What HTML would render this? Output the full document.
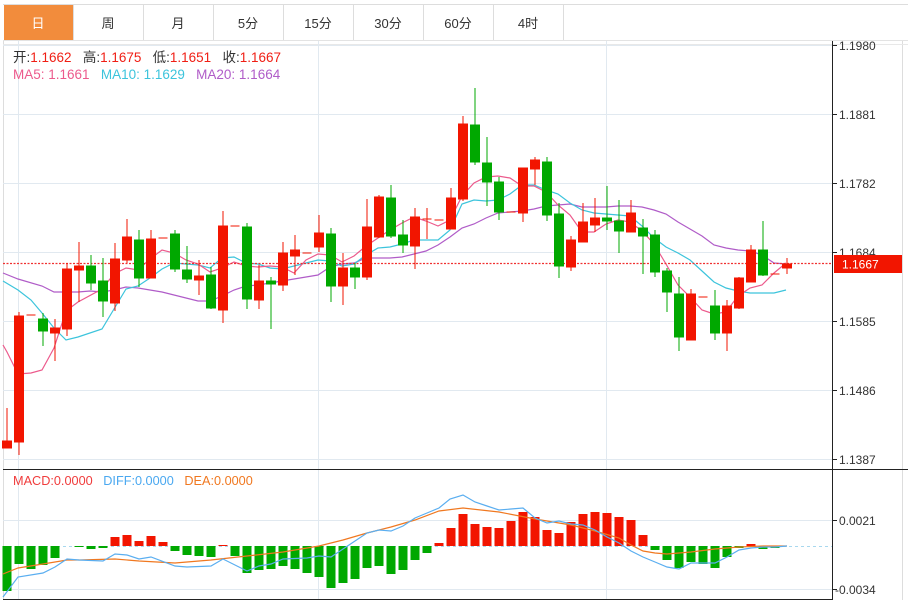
<!DOCTYPE html>
<html><head><meta charset="utf-8"><style>
body{margin:0;background:#fff;width:908px;height:600px;overflow:hidden;font-family:"Liberation Sans","Noto Sans CJK SC",sans-serif}
</style></head><body>
<svg width="908" height="600" viewBox="0 0 908 600" xmlns="http://www.w3.org/2000/svg" font-family="Liberation Sans, Noto Sans CJK SC, sans-serif">
<rect width="908" height="600" fill="#fff"/>
<line x1="3" y1="4.5" x2="908" y2="4.5" stroke="#ddd"/>
<line x1="3" y1="40.5" x2="908" y2="40.5" stroke="#e3e3e3"/>
<rect x="4" y="5" width="69" height="35" fill="#f28c3c"/>
<g stroke="#ddd"><line x1="73.5" y1="5" x2="73.5" y2="40"/><line x1="143.5" y1="5" x2="143.5" y2="40"/><line x1="213.5" y1="5" x2="213.5" y2="40"/><line x1="283.5" y1="5" x2="283.5" y2="40"/><line x1="353.5" y1="5" x2="353.5" y2="40"/><line x1="423.5" y1="5" x2="423.5" y2="40"/><line x1="493.5" y1="5" x2="493.5" y2="40"/><line x1="563.5" y1="5" x2="563.5" y2="40"/></g>
<g font-size="13" text-anchor="middle" fill="#333"><text x="38" y="28" fill="#fff">日</text><text x="108" y="28">周</text><text x="178" y="28">月</text><text x="248" y="28">5分</text><text x="318" y="28">15分</text><text x="388" y="28">30分</text><text x="458" y="28">60分</text><text x="528" y="28">4时</text></g>
<line x1="3.5" y1="41" x2="3.5" y2="600" stroke="#ddd"/>
<line x1="902.5" y1="41" x2="902.5" y2="600" stroke="#ddd"/>
<line x1="3" y1="44.5" x2="908" y2="44.5" stroke="#e8e8e8"/>
<g stroke="#e1e9f0"><line x1="3" y1="45.5" x2="832" y2="45.5"/><line x1="3" y1="114.5" x2="832" y2="114.5"/><line x1="3" y1="183.5" x2="832" y2="183.5"/><line x1="3" y1="252.5" x2="832" y2="252.5"/><line x1="3" y1="321.5" x2="832" y2="321.5"/><line x1="3" y1="390.5" x2="832" y2="390.5"/><line x1="3" y1="459.5" x2="832" y2="459.5"/>
<line x1="18.5" y1="41" x2="18.5" y2="600"/><line x1="318.5" y1="41" x2="318.5" y2="600"/><line x1="606.5" y1="41" x2="606.5" y2="600"/>
<line x1="3" y1="520.5" x2="832" y2="520.5"/><line x1="3" y1="589.5" x2="832" y2="589.5"/></g>
<line x1="832.5" y1="41" x2="832.5" y2="600" stroke="#222"/>
<line x1="3" y1="469.5" x2="908" y2="469.5" stroke="#222"/>
<line x1="3" y1="599.5" x2="832" y2="599.5" stroke="#222"/>
<g stroke="#222"><line x1="832" y1="45.5" x2="837" y2="45.5"/><line x1="832" y1="114.5" x2="837" y2="114.5"/><line x1="832" y1="183.5" x2="837" y2="183.5"/><line x1="832" y1="252.5" x2="837" y2="252.5"/><line x1="832" y1="321.5" x2="837" y2="321.5"/><line x1="832" y1="390.5" x2="837" y2="390.5"/><line x1="832" y1="459.5" x2="837" y2="459.5"/><line x1="832" y1="520.5" x2="837" y2="520.5"/><line x1="832" y1="589.5" x2="837" y2="589.5"/></g>
<g font-size="12" fill="#333"><text x="839" y="50">1.1980</text><text x="839" y="119">1.1881</text><text x="839" y="188">1.1782</text><text x="839" y="257">1.1684</text><text x="839" y="326">1.1585</text><text x="839" y="395">1.1486</text><text x="839" y="464">1.1387</text><text x="839" y="525">0.0021</text><text x="835" y="594">-0.0034</text></g>
<g font-size="13.5"><text x="13" y="62" fill="#333">开:<tspan fill="#f01e14">1.1662</tspan>&#160;&#160;&#160;高:<tspan fill="#f01e14">1.1675</tspan>&#160;&#160;&#160;低:<tspan fill="#f01e14">1.1651</tspan>&#160;&#160;&#160;收:<tspan fill="#f01e14">1.1667</tspan></text>
<text x="13" y="79"><tspan fill="#ec5a8c">MA5: 1.1661</tspan>&#160;&#160;&#160;<tspan fill="#3cc4dc">MA10: 1.1629</tspan>&#160;&#160;&#160;<tspan fill="#b05cc8">MA20: 1.1664</tspan></text></g>
<text x="13" y="485" font-size="12.7"><tspan fill="#f03c3c">MACD:0.0000</tspan>&#160;&#160;&#160;<tspan fill="#4aa8f0">DIFF:0.0000</tspan>&#160;&#160;&#160;<tspan fill="#f07820">DEA:0.0000</tspan></text>
<g fill="none" stroke-width="1.2">
<polyline stroke="#b05cc8" points="3,273 18,279 42,286 54,292 66,292 78,292 90,291 102,292 114,290 126,287 138,288 150,290 162,292 174,295 186,298 198,301 210,301 222,296 234,290 246,286 258,285 270,283 282,281 294,279 306,277 318,275 330,267 342,264 354,263 366,258 378,258 390,258 402,257 414,254 426,251 438,245 450,237 462,228 474,224 486,218 498,213 510,212 522,211 534,209 546,206 558,205 570,204 582,207 594,207 606,207 618,206 630,206 642,207 654,210 666,214 678,222 690,229 702,236 714,245 726,248 738,250 750,251 762,255 774,263 786,264"/>
<polyline stroke="#3cc4dc" points="3,281 18,290 31,300 42,313 54,328 66,340 78,337 102,329 126,289 138,286 150,278 162,269 174,263 186,264 198,265 210,268 222,258 234,257 246,263 258,264 270,268 282,269 294,266 306,263 318,260 330,261 342,266 354,264 366,255 378,248 390,247 402,244 414,240 426,240 438,240 450,230 462,204 474,200 486,201 498,200 510,194 522,185 534,185 546,190 558,194 570,203 582,210 594,213 606,214 618,215 630,216 642,226 654,238 666,247 678,253 690,260 702,271 714,282 726,288 738,291 750,293 762,293 774,293 786,290"/>
<polyline stroke="#ec5a8c" points="3,345 7,352 18,374 31,373 42,370 54,348 66,311 78,302 102,289 114,274 126,268 138,270 150,259 162,250 174,253 186,260 198,264 210,272 222,268 234,262 246,266 258,267 270,266 282,267 294,273 306,260 318,254 330,255 342,262 354,256 366,246 378,238 390,230 402,223 414,217 426,221 438,226 450,220 462,196 474,183 486,177 498,176 510,178 522,186 534,186 546,192 558,205 570,215 582,232 594,232 606,224 618,220 630,222 642,231 654,244 666,264 678,285 690,297 702,310 714,314 726,312 738,296 750,288 762,285 774,273 786,263"/>
</g>
<line x1="3" y1="263.5" x2="832" y2="263.5" stroke="#f03030" stroke-width="1.2" stroke-dasharray="2,1.5"/>
<rect x="834" y="255" width="68" height="18" fill="#f21500"/>
<text x="842" y="268.5" font-size="12" fill="#fff">1.1667</text>
<g stroke="#f21500" fill="#f21500">
<line x1="7" y1="408" x2="7" y2="448"/><rect x="2.5" y="441" width="9" height="7"/>
<line x1="19" y1="312" x2="19" y2="455"/><rect x="14.5" y="316" width="9" height="126"/>
<line x1="26.5" y1="315" x2="35.5" y2="315"/>
<line x1="55" y1="319" x2="55" y2="361"/><rect x="50.5" y="328" width="9" height="5"/>
<line x1="67" y1="263" x2="67" y2="336"/><rect x="62.5" y="269" width="9" height="60"/>
<line x1="79" y1="242" x2="79" y2="302"/><rect x="74.5" y="266" width="9" height="4"/>
<line x1="115" y1="243" x2="115" y2="311"/><rect x="110.5" y="259" width="9" height="44"/>
<line x1="127" y1="219" x2="127" y2="263"/><rect x="122.5" y="237" width="9" height="23"/>
<line x1="151" y1="230" x2="151" y2="278"/><rect x="146.5" y="239" width="9" height="39"/>
<line x1="158.5" y1="238" x2="167.5" y2="238"/>
<line x1="199" y1="260" x2="199" y2="295"/><rect x="194.5" y="276" width="9" height="4"/>
<line x1="223" y1="211" x2="223" y2="323"/><rect x="218.5" y="226" width="9" height="84"/>
<line x1="230.5" y1="226" x2="239.5" y2="226"/>
<line x1="259" y1="265" x2="259" y2="309"/><rect x="254.5" y="281" width="9" height="19"/>
<line x1="283" y1="242" x2="283" y2="291"/><rect x="278.5" y="253" width="9" height="32"/>
<line x1="295" y1="235" x2="295" y2="275"/><rect x="290.5" y="250" width="9" height="6"/>
<line x1="302.5" y1="253" x2="311.5" y2="253"/>
<line x1="319" y1="215" x2="319" y2="252"/><rect x="314.5" y="233" width="9" height="14"/>
<line x1="343" y1="253" x2="343" y2="305"/><rect x="338.5" y="268" width="9" height="18"/>
<line x1="367" y1="199" x2="367" y2="280"/><rect x="362.5" y="227" width="9" height="50"/>
<line x1="379" y1="195" x2="379" y2="238"/><rect x="374.5" y="197" width="9" height="40"/>
<line x1="415" y1="208" x2="415" y2="269"/><rect x="410.5" y="217" width="9" height="29"/>
<line x1="427" y1="208" x2="427" y2="239"/><line x1="422.5" y1="219" x2="431.5" y2="219"/>
<line x1="434.5" y1="220" x2="443.5" y2="220"/>
<line x1="451" y1="188" x2="451" y2="229"/><rect x="446.5" y="198" width="9" height="31"/>
<line x1="463" y1="116" x2="463" y2="201"/><rect x="458.5" y="124" width="9" height="75"/>
<line x1="506.5" y1="212" x2="515.5" y2="212"/>
<line x1="523" y1="168" x2="523" y2="222"/><rect x="518.5" y="168" width="9" height="45"/>
<line x1="535" y1="157" x2="535" y2="185"/><rect x="530.5" y="160" width="9" height="9"/>
<line x1="571" y1="236" x2="571" y2="271"/><rect x="566.5" y="240" width="9" height="27"/>
<line x1="583" y1="203" x2="583" y2="242"/><rect x="578.5" y="222" width="9" height="20"/>
<line x1="595" y1="198" x2="595" y2="232"/><rect x="590.5" y="218" width="9" height="7"/>
<line x1="631" y1="200" x2="631" y2="232"/><rect x="626.5" y="213" width="9" height="19"/>
<line x1="691" y1="289" x2="691" y2="340"/><rect x="686.5" y="294" width="9" height="46"/>
<line x1="698.5" y1="297" x2="707.5" y2="297"/>
<line x1="727" y1="300" x2="727" y2="351"/><rect x="722.5" y="306" width="9" height="27"/>
<line x1="739" y1="277" x2="739" y2="309"/><rect x="734.5" y="278" width="9" height="30"/>
<line x1="751" y1="245" x2="751" y2="282"/><rect x="746.5" y="250" width="9" height="32"/>
<line x1="770.5" y1="274" x2="779.5" y2="274"/>
<line x1="787" y1="258" x2="787" y2="274"/><rect x="782.5" y="264" width="9" height="4"/>
</g>
<g stroke="#00a800" fill="#00a800">
<line x1="43" y1="313" x2="43" y2="346"/><rect x="38.5" y="319" width="9" height="12"/>
<line x1="91" y1="255" x2="91" y2="290"/><rect x="86.5" y="266" width="9" height="17"/>
<line x1="103" y1="258" x2="103" y2="317"/><rect x="98.5" y="281" width="9" height="20"/>
<line x1="139" y1="230" x2="139" y2="287"/><rect x="134.5" y="240" width="9" height="38"/>
<line x1="175" y1="230" x2="175" y2="272"/><rect x="170.5" y="234" width="9" height="35"/>
<line x1="187" y1="246" x2="187" y2="283"/><rect x="182.5" y="270" width="9" height="9"/>
<line x1="211" y1="267" x2="211" y2="309"/><rect x="206.5" y="275" width="9" height="33"/>
<line x1="247" y1="223" x2="247" y2="309"/><rect x="242.5" y="227" width="9" height="72"/>
<line x1="271" y1="277" x2="271" y2="329"/><rect x="266.5" y="281" width="9" height="3"/>
<line x1="331" y1="228" x2="331" y2="302"/><rect x="326.5" y="234" width="9" height="52"/>
<line x1="355" y1="263" x2="355" y2="289"/><rect x="350.5" y="268" width="9" height="9"/>
<line x1="391" y1="185" x2="391" y2="238"/><rect x="386.5" y="198" width="9" height="38"/>
<line x1="403" y1="220" x2="403" y2="253"/><rect x="398.5" y="235" width="9" height="10"/>
<line x1="475" y1="88" x2="475" y2="165"/><rect x="470.5" y="125" width="9" height="37"/>
<line x1="487" y1="137" x2="487" y2="206"/><rect x="482.5" y="163" width="9" height="19"/>
<line x1="499" y1="177" x2="499" y2="220"/><rect x="494.5" y="182" width="9" height="30"/>
<line x1="547" y1="157" x2="547" y2="221"/><rect x="542.5" y="162" width="9" height="53"/>
<line x1="559" y1="203" x2="559" y2="278"/><rect x="554.5" y="214" width="9" height="52"/>
<line x1="607" y1="186" x2="607" y2="230"/><rect x="602.5" y="218" width="9" height="3"/>
<line x1="619" y1="200" x2="619" y2="253"/><rect x="614.5" y="221" width="9" height="10"/>
<line x1="643" y1="219" x2="643" y2="274"/><rect x="638.5" y="228" width="9" height="8"/>
<line x1="655" y1="230" x2="655" y2="277"/><rect x="650.5" y="235" width="9" height="37"/>
<line x1="667" y1="268" x2="667" y2="312"/><rect x="662.5" y="271" width="9" height="21"/>
<line x1="679" y1="277" x2="679" y2="351"/><rect x="674.5" y="294" width="9" height="43"/>
<line x1="715" y1="290" x2="715" y2="340"/><rect x="710.5" y="306" width="9" height="27"/>
<line x1="763" y1="221" x2="763" y2="276"/><rect x="758.5" y="250" width="9" height="25"/>
</g>
<line x1="3" y1="546.5" x2="832" y2="546.5" stroke="#a8d8ee" stroke-dasharray="3,3"/>
<g fill="#00a800">
<rect x="2.5" y="546" width="9" height="45"/><rect x="14.5" y="546" width="9" height="18"/><rect x="26.5" y="546" width="9" height="23"/><rect x="38.5" y="546" width="9" height="19"/><rect x="50.5" y="546" width="9" height="12"/>
<rect x="74.5" y="546" width="9" height="1"/><rect x="86.5" y="546" width="9" height="3"/><rect x="98.5" y="546" width="9" height="2"/>
<rect x="170.5" y="546" width="9" height="5"/><rect x="182.5" y="546" width="9" height="9"/><rect x="194.5" y="546" width="9" height="10"/><rect x="206.5" y="546" width="9" height="11"/>
<rect x="230.5" y="546" width="9" height="10"/><rect x="242.5" y="546" width="9" height="27"/><rect x="254.5" y="546" width="9" height="24"/><rect x="266.5" y="546" width="9" height="23"/><rect x="278.5" y="546" width="9" height="20"/><rect x="290.5" y="546" width="9" height="23"/><rect x="302.5" y="546" width="9" height="27"/><rect x="314.5" y="546" width="9" height="31"/><rect x="326.5" y="546" width="9" height="42"/><rect x="338.5" y="546" width="9" height="37"/><rect x="350.5" y="546" width="9" height="33"/><rect x="362.5" y="546" width="9" height="22"/><rect x="374.5" y="546" width="9" height="20"/><rect x="386.5" y="546" width="9" height="28"/><rect x="398.5" y="546" width="9" height="24"/><rect x="410.5" y="546" width="9" height="14"/><rect x="422.5" y="546" width="9" height="7"/>
<rect x="650.5" y="546" width="9" height="4"/><rect x="662.5" y="546" width="9" height="14"/><rect x="674.5" y="546" width="9" height="22"/><rect x="686.5" y="546" width="9" height="16"/><rect x="698.5" y="546" width="9" height="18"/><rect x="710.5" y="546" width="9" height="22"/><rect x="722.5" y="546" width="9" height="11"/><rect x="734.5" y="546" width="9" height="2"/><rect x="758.5" y="546" width="9" height="3"/><rect x="770.5" y="546" width="9" height="2"/>
</g>
<g fill="#f21500">
<rect x="110.5" y="537" width="9" height="9"/><rect x="122.5" y="535" width="9" height="11"/><rect x="134.5" y="541" width="9" height="5"/><rect x="146.5" y="536" width="9" height="10"/><rect x="158.5" y="542" width="9" height="4"/><rect x="218.5" y="545" width="9" height="1"/>
<rect x="434.5" y="543" width="9" height="3"/><rect x="446.5" y="528" width="9" height="18"/><rect x="458.5" y="514" width="9" height="32"/><rect x="470.5" y="524" width="9" height="22"/><rect x="482.5" y="527" width="9" height="19"/><rect x="494.5" y="528" width="9" height="18"/><rect x="506.5" y="521" width="9" height="25"/><rect x="518.5" y="512" width="9" height="34"/><rect x="530.5" y="517" width="9" height="29"/><rect x="542.5" y="530" width="9" height="16"/><rect x="554.5" y="533" width="9" height="13"/><rect x="566.5" y="522" width="9" height="24"/><rect x="578.5" y="514" width="9" height="32"/><rect x="590.5" y="512" width="9" height="34"/><rect x="602.5" y="513" width="9" height="33"/><rect x="614.5" y="517" width="9" height="29"/><rect x="626.5" y="520" width="9" height="26"/><rect x="638.5" y="535" width="9" height="11"/><rect x="746.5" y="544" width="9" height="2"/>
</g>
<g fill="none" stroke-width="1.2">
<polyline stroke="#f07820" points="3,574 18,568 43,564 67,560 79,560 115,559 139,561 175,563 211,560 247,556 283,552 319,546 343,540 367,533 391,527 415,520 439,511 463,508 499,512 535,519 571,525 595,531 619,538 631,545 643,551 655,553 667,554 691,552 715,549 739,547 763,546 787,546"/>
<polyline stroke="#5aaef0" points="3,597 18,577 43,573 55,567 67,559 79,560 103,561 115,554 127,555 139,559 151,557 175,566 187,567 211,566 223,559 247,571 259,566 271,564 283,559 307,558 319,556 331,557 343,549 355,541 367,533 379,530 391,531 403,526 415,518 427,513 439,508 450,499 463,495 475,502 487,506 499,510 511,509 523,508 535,518 547,523 559,521 571,524 583,525 595,530 607,537 619,543 631,551 643,557 655,562 667,567 679,569 691,563 703,563 715,563 727,557 739,550 751,548 763,547 775,547 787,546"/>
</g>
</svg>
</body></html>
